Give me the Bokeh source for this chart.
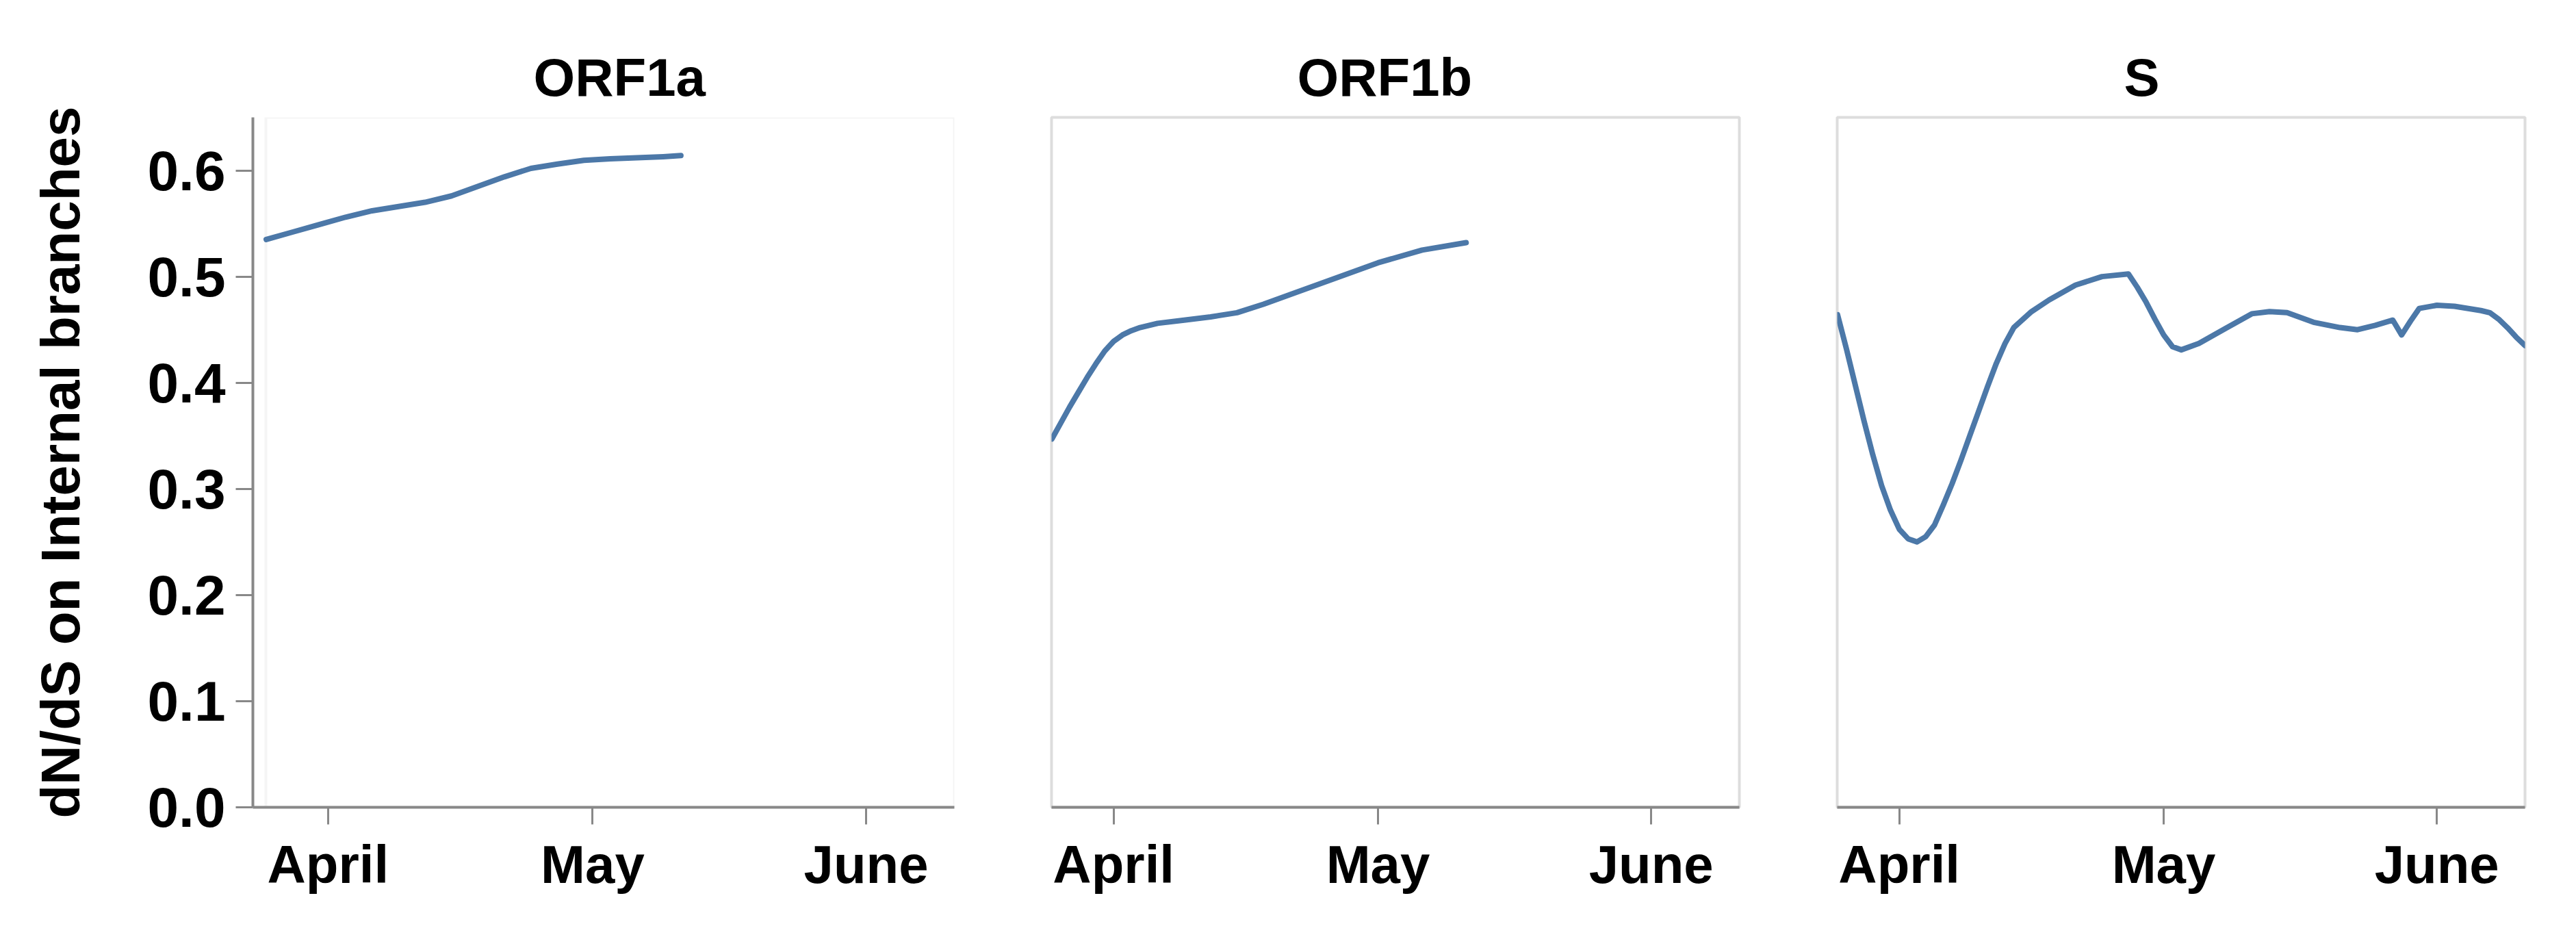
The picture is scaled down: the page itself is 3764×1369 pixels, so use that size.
import pandas as pd
from bokeh.plotting import figure
from bokeh.layouts import row
from bokeh.models import Range1d, FixedTicker, DatetimeTickFormatter, PrintfTickFormatter, BoxAnnotation
from bokeh.embed import file_html
from bokeh.resources import INLINE

# ---------------- data ----------------
panel_names = ["ORF1a", "ORF1b", "S"]
y_label = "dN/dS on Internal branches"

orf1a_dates = ["2020-03-25", "2020-03-28", "2020-03-31", "2020-04-03", "2020-04-06",
               "2020-04-09", "2020-04-12", "2020-04-15", "2020-04-18", "2020-04-21",
               "2020-04-24", "2020-04-27", "2020-04-30", "2020-05-03", "2020-05-06",
               "2020-05-09", "2020-05-11"]
orf1a_values = [0.535, 0.542, 0.549, 0.556, 0.562, 0.566, 0.570, 0.576, 0.585, 0.594,
                0.602, 0.606, 0.6095, 0.611, 0.612, 0.613, 0.614]

orf1b_dates = ["2020-03-25", "2020-03-26", "2020-03-27", "2020-03-28", "2020-03-29",
               "2020-03-30", "2020-03-31", "2020-04-01", "2020-04-02", "2020-04-03",
               "2020-04-04", "2020-04-06", "2020-04-09", "2020-04-12", "2020-04-15",
               "2020-04-18", "2020-04-21", "2020-04-26", "2020-05-01", "2020-05-06",
               "2020-05-11"]
orf1b_values = [0.347, 0.362, 0.377, 0.391, 0.405, 0.418, 0.430, 0.439, 0.445, 0.449,
                0.452, 0.456, 0.459, 0.462, 0.466, 0.474, 0.483, 0.498, 0.513, 0.525,
                0.532]

s_dates = ["2020-03-25", "2020-03-26", "2020-03-27", "2020-03-28", "2020-03-29",
           "2020-03-30", "2020-03-31", "2020-04-01", "2020-04-02", "2020-04-03",
           "2020-04-04", "2020-04-05", "2020-04-06", "2020-04-07", "2020-04-08",
           "2020-04-09", "2020-04-10", "2020-04-11", "2020-04-12", "2020-04-13",
           "2020-04-14", "2020-04-16", "2020-04-18", "2020-04-21", "2020-04-24",
           "2020-04-27", "2020-04-28", "2020-04-29", "2020-04-30", "2020-05-01",
           "2020-05-02", "2020-05-03", "2020-05-05", "2020-05-08", "2020-05-11",
           "2020-05-13", "2020-05-15", "2020-05-18", "2020-05-21", "2020-05-23",
           "2020-05-25", "2020-05-27", "2020-05-28", "2020-05-29", "2020-05-30",
           "2020-06-01", "2020-06-03", "2020-06-06", "2020-06-07", "2020-06-08",
           "2020-06-09", "2020-06-10", "2020-06-11"]
s_values = [0.464, 0.432, 0.398, 0.364, 0.332, 0.303, 0.280, 0.262, 0.253, 0.250,
            0.255, 0.266, 0.285, 0.305, 0.327, 0.350, 0.373, 0.396, 0.418, 0.437,
            0.452, 0.467, 0.478, 0.492, 0.500, 0.5025, 0.490, 0.476, 0.460, 0.445,
            0.434, 0.431, 0.437, 0.451, 0.465, 0.467, 0.466, 0.457, 0.452, 0.450,
            0.454, 0.459, 0.445, 0.458, 0.470, 0.473, 0.472, 0.468, 0.466, 0.460,
            0.452, 0.443, 0.435]

month_ticks = ["2020-04-01", "2020-05-01", "2020-06-01"]
y_ticks = [0.0, 0.1, 0.2, 0.3, 0.4, 0.5, 0.6]
x_domain = ["2020-03-24 23:00", "2020-06-11 00:00"]
y_domain = [0.0, 0.65]

series = [(orf1a_dates, orf1a_values), (orf1b_dates, orf1b_values), (s_dates, s_values)]

# ---------------- style ----------------
LINE_COLOR = "#4C78A8"
AXIS_COLOR = "#888888"
FRAME_COLOR = "#dddddd"
FONT = "Liberation Sans"
H = 1350
TOP = 171
BOTTOM = 171


def to_ms(s):
    return (pd.Timestamp(s) - pd.Timestamp("1970-01-01")) // pd.Timedelta("1ms")


x0 = to_ms(x_domain[0])
x1 = to_ms(x_domain[1])
tick_ms = [to_ms(t) for t in month_ticks]

# figure geometry: (width, left border, right border, title offset)
geo = [(1465, 369, 71, 410), (1147, 71, 71, 359), (1132, 72, 55, 419)]

figs = []
for i, (name, (dates, vals)) in enumerate(zip(panel_names, series)):
    width, left, right, toff = geo[i]
    frame_w = width - left - right
    if i == 0:
        # axis line sits a little left of the panel box
        ext = (x1 - x0) * (frame_w - 1006) / 1006.0
        xr = Range1d(start=x0 - ext, end=x1)
    else:
        xr = Range1d(start=x0, end=x1)
    p = figure(width=width, height=H, x_range=xr, y_range=Range1d(*y_domain),
               x_axis_type="datetime", output_backend="svg", toolbar_location=None,
               y_axis_location="left" if i == 0 else None,
               min_border_left=left, min_border_right=right,
               min_border_top=TOP, min_border_bottom=BOTTOM,
               background_fill_color="white", border_fill_color="white")
    p.grid.visible = False

    if i == 0:
        p.outline_line_color = None
        box = BoxAnnotation(left=x0, right=x1, bottom=y_domain[0], top=y_domain[1],
                            fill_alpha=0, line_color=FRAME_COLOR, line_width=4,
                            level="underlay")
        p.add_layout(box)
    else:
        p.outline_line_color = FRAME_COLOR
        p.outline_line_width = 4

    p.title.text = name
    p.title.align = "left"
    p.title.offset = toff
    p.title.text_font = FONT
    p.title.text_font_style = "bold"
    p.title.text_font_size = "78px"
    p.title.text_color = "black"
    p.title.standoff = 30

    xa = p.xaxis[0]
    xa.ticker = FixedTicker(ticks=tick_ms)
    xa.formatter = DatetimeTickFormatter(milliseconds="%B", seconds="%B", minsec="%B",
                                         minutes="%B", hourmin="%B", hours="%B",
                                         days="%B", months="%B", years="%B", context=None)
    xa.axis_line_color = AXIS_COLOR
    xa.axis_line_width = 4
    xa.major_tick_line_color = AXIS_COLOR
    xa.major_tick_line_width = 3
    xa.major_tick_out = 25
    xa.major_tick_in = 0
    xa.minor_tick_line_color = None
    xa.major_label_text_font = FONT
    xa.major_label_text_font_style = "bold"
    xa.major_label_text_font_size = "78px"
    xa.major_label_text_color = "black"
    xa.major_label_standoff = 14

    if i == 0:
        ya = p.yaxis[0]
        ya.ticker = FixedTicker(ticks=y_ticks)
        ya.formatter = PrintfTickFormatter(format="%.1f")
        ya.axis_line_color = AXIS_COLOR
        ya.axis_line_width = 4
        ya.major_tick_line_color = AXIS_COLOR
        ya.major_tick_line_width = 3
        ya.major_tick_out = 25
        ya.major_tick_in = 0
        ya.minor_tick_line_color = None
        ya.major_label_text_font = FONT
        ya.major_label_text_font_style = "bold"
        ya.major_label_text_font_size = "82px"
        ya.major_label_text_color = "black"
        ya.major_label_standoff = 15
        ya.axis_label = y_label
        ya.axis_label_text_font = FONT
        ya.axis_label_text_font_style = "bold"
        ya.axis_label_text_font_size = "80px"
        ya.axis_label_text_color = "black"
        ya.axis_label_standoff = 80

    xs = pd.to_datetime(dates)
    p.line(x=xs, y=vals, line_color=LINE_COLOR, line_width=8, line_join="round",
           line_cap="round")
    figs.append(p)

layout = row(*figs)
open("out.html", "w").write(file_html(layout, INLINE))
